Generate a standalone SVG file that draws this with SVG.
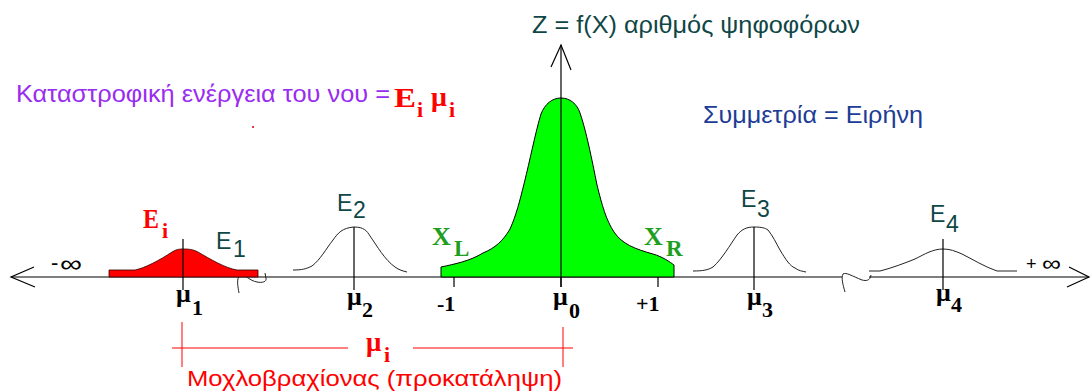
<svg xmlns="http://www.w3.org/2000/svg" width="1091" height="392" viewBox="0 0 1091 392">
<style>
.sans{font-family:"Liberation Sans",Arial,sans-serif}
.ser{font-family:"Liberation Serif","Times New Roman",serif;font-weight:bold}
.lbl{font-family:"Liberation Sans",Arial,sans-serif;font-size:23px;fill:#0f4646}
.mu{font-family:"Liberation Serif","Times New Roman",serif;font-weight:bold;font-size:26px;fill:#000}
.dg{font-family:"Liberation Serif","Times New Roman",serif;font-weight:bold;font-size:22px;fill:#000}
.red{fill:#ff0000}
.grn{fill:#1e9e1e}
.ax{stroke:#000;stroke-width:1.2;fill:none}
.thin{stroke:#222;stroke-width:1;fill:none}
</style>
<rect width="1091" height="392" fill="#fff"/>

<g id="connectors">
  <line class="ax" x1="11" y1="277" x2="842" y2="277"/>
  <line class="ax" x1="869" y1="277" x2="1089" y2="277"/>
  <polyline class="ax" points="34,267 11,277 35,287"/>
  <polyline class="ax" points="1069,267 1089,277 1067,287"/>
  <line class="ax" x1="561" y1="45" x2="561" y2="287"/>
  <polyline class="ax" points="551,67 561,45 571,70"/>
  <path class="thin" d="M239,293 C238,287 236,279 240,275 C245,274 250,281 257,282 C262,283 267,282 266,278 L265,273"/>
  <path class="thin" d="M845,292 C843,285 841,278 843,274 C846,272 852,276 862,280 C866,281 870,281 871,275"/>
  <line class="ax" x1="454" y1="277" x2="454" y2="287"/>
  <line class="ax" x1="658" y1="277" x2="658" y2="287"/>
</g>

<g id="title" class="sans">
  <text x="532" y="33" font-size="23" fill="#0f4646" textLength="328" lengthAdjust="spacingAndGlyphs">Z = f(X) αριθμός ψηφοφόρων</text>
</g>

<g id="energy-label">
  <text class="sans" x="16" y="102" font-size="23" fill="#9a2cf0" textLength="374" lengthAdjust="spacingAndGlyphs">Καταστροφική ενέργεια του νου =</text>
  <text class="ser red" x="394" y="107" font-size="28" textLength="22" lengthAdjust="spacingAndGlyphs">E</text>
  <text class="ser red" x="417" y="117" font-size="22">i</text>
  <text class="ser red" x="431" y="106" font-size="28">μ</text>
  <text class="ser red" x="449" y="117" font-size="22">i</text>
  <rect x="252" y="126" width="2" height="2" fill="#e04040"/>
</g>

<g id="symmetry">
  <text class="sans" x="703" y="123" font-size="24" fill="#1c3c96" textLength="220" lengthAdjust="spacingAndGlyphs">Συμμετρία = Ειρήνη</text>
</g>

<g id="minus-inf">
  <text class="sans" x="51" y="270" font-size="22" fill="#000">-</text>
  <text class="sans" x="60" y="272" font-size="24" fill="#000" textLength="22" lengthAdjust="spacingAndGlyphs">∞</text>
</g>
<g id="plus-inf">
  <text class="sans" x="1026" y="270" font-size="18" fill="#000">+</text>
  <text class="sans" x="1042" y="271" font-size="22" fill="#000" textLength="19" lengthAdjust="spacingAndGlyphs">∞</text>
</g>

<g id="node-e1">
  <path d="M109,277 L109,270 L135,270 C145,268 160,260 172,252 C177,249 180,249 183,249 C188,249 192,249 198,252 C210,259 225,268 237,270 L258,270 L258,277 Z" fill="#ff0000" stroke="#300" stroke-width="0.8"/>
  <line class="ax" x1="183" y1="239" x2="183" y2="290"/>
  <text class="ser red" x="143" y="228" font-size="28" textLength="16" lengthAdjust="spacingAndGlyphs">E</text>
  <text class="ser red" x="162" y="238" font-size="22">i</text>
  <text class="lbl" x="216" y="249">E</text>
  <text class="lbl" x="233" y="257">1</text>
  <text class="mu" x="176" y="302">μ</text>
  <text class="dg" x="192" y="315">1</text>
</g>

<g id="node-e2">
  <path class="thin" d="M293,270 C302,270 306,269 312,266 C320,260 326,249 333,240 C338,233 342,228 354,227 C364,227 367,231 370,236 C377,246 385,260 395,267 C399,270 403,271 407,272"/>
  <line class="ax" x1="354" y1="227" x2="354" y2="290"/>
  <text class="lbl" x="337" y="211">E</text>
  <text class="lbl" x="353" y="218" font-size="25">2</text>
  <text class="mu" x="347" y="305">μ</text>
  <text class="dg" x="362" y="317">2</text>
</g>

<g id="node-e0">
  <path d="M441,277 L441,267 C455,264 470,261 483,253 C495,248 503,241 510,229 C516,216 520,200 524,184 C530,160 536,130 541,114 C545,104 552,98 561,98 C570,98 577,104 580,113 C586,130 592,160 597,185 C602,205 606,220 614,232 C622,244 635,249 653,254 C663,257 670,262 674,265 L674,277 Z" fill="#00ff00" stroke="#000" stroke-width="1"/>
  <line class="ax" x1="561" y1="98" x2="561" y2="287"/>
  <text class="ser grn" x="432" y="245" font-size="26">X</text>
  <text class="ser grn" x="454" y="256" font-size="23">L</text>
  <text class="ser grn" x="644" y="245" font-size="26">X</text>
  <text class="ser grn" x="666" y="256" font-size="23">R</text>
  <text class="dg" x="437" y="311" font-size="20">-1</text>
  <text class="dg" x="636" y="311" font-size="20">+1</text>
  <text class="mu" x="553" y="305">μ</text>
  <text class="dg" x="569" y="318">0</text>
</g>

<g id="node-e3">
  <path class="thin" d="M693,271 C703,271 708,270 713,267 C722,259 730,245 737,235 C742,229 747,227 754,227 C762,227 765,228 768,230 C773,236 776,243 780,250 C786,260 790,266 795,268 C799,271 802,271 806,272"/>
  <line class="ax" x1="754" y1="227" x2="754" y2="290"/>
  <text class="lbl" x="741" y="207">E</text>
  <text class="lbl" x="757" y="217" font-size="25">3</text>
  <text class="mu" x="747" y="305">μ</text>
  <text class="dg" x="762" y="317">3</text>
</g>

<g id="node-e4">
  <path class="thin" d="M869,271 L880,271 C892,268 905,263 915,259 C925,254 933,249 943,249 C950,249 955,251 962,254 C972,259 985,267 997,271 L1017,271"/>
  <line class="ax" x1="943" y1="239" x2="943" y2="290"/>
  <text class="lbl" x="930" y="222">E</text>
  <text class="lbl" x="946" y="232" font-size="25">4</text>
  <text class="mu" x="936" y="301">μ</text>
  <text class="dg" x="951" y="312">4</text>
</g>

<g id="lever-arm">
  <line x1="172" y1="348" x2="348" y2="348" stroke="#ff0000" stroke-width="1"/>
  <line x1="413" y1="348" x2="573" y2="348" stroke="#ff0000" stroke-width="1"/>
  <line x1="182" y1="322" x2="182" y2="367" stroke="#ff0000" stroke-width="1"/>
  <line x1="563" y1="327" x2="563" y2="367" stroke="#ff0000" stroke-width="1"/>
  <text class="ser red" x="366" y="351" font-size="27">μ</text>
  <text class="ser red" x="384" y="362" font-size="22">i</text>
  <text class="sans" x="187" y="386" font-size="22" fill="#ff0000" textLength="375" lengthAdjust="spacingAndGlyphs">Μοχλοβραχίονας (προκατάληψη)</text>
</g>
</svg>
